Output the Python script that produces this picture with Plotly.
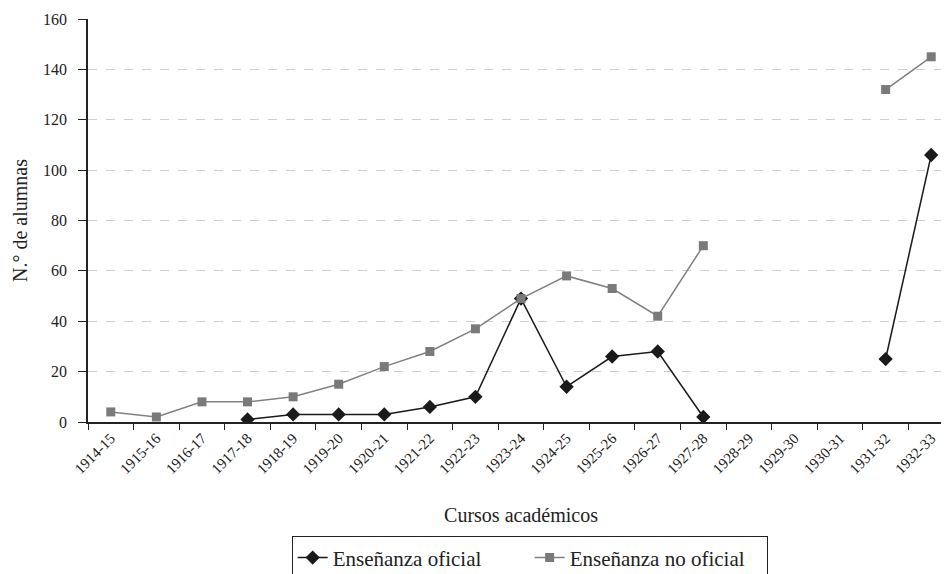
import plotly.graph_objects as go

cursos = ["1914-15", "1915-16", "1916-17", "1917-18", "1918-19", "1919-20", "1920-21",
          "1921-22", "1922-23", "1923-24", "1924-25", "1925-26", "1926-27", "1927-28",
          "1928-29", "1929-30", "1930-31", "1931-32", "1932-33"]
oficial = [None, None, None, 1, 3, 3, 3, 6, 10, 49, 14, 26, 28, 2, None, None, None, 25, 106]
no_oficial = [4, 2, 8, 8, 10, 15, 22, 28, 37, 49, 58, 53, 42, 70, None, None, None, 132, 145]

FONT = "Liberation Serif"

fig = go.Figure()
fig.add_trace(go.Scatter(
    x=cursos, y=oficial, name="Enseñanza oficial", mode="lines+markers",
    line=dict(color="#1a1a1a", width=1.5),
    marker=dict(symbol="diamond", size=11, color="#1a1a1a"),
    connectgaps=False))
fig.add_trace(go.Scatter(
    x=cursos, y=no_oficial, name="Enseñanza no oficial", mode="lines+markers",
    line=dict(color="#808080", width=1.5),
    marker=dict(symbol="square", size=9, color="#7a7a7a"),
    connectgaps=False))

fig.update_layout(
    width=949, height=574,
    margin=dict(l=80, r=3, t=11, b=160, autoexpand=False),
    paper_bgcolor="white", plot_bgcolor="white",
    font=dict(family=FONT, size=16, color="#222"),
    showlegend=True,
    legend=dict(orientation="h", x=0.51, xanchor="center", y=-0.284, yanchor="top",
                bordercolor="#222", borderwidth=1, font=dict(size=21, family=FONT),
                entrywidth=192, tracegroupgap=0),
    xaxis=dict(
        type="category", range=[-0.5, 18.5],
        tickson="boundaries", ticks="outside", ticklen=6, tickcolor="#222",
        tickangle=-45, tickfont=dict(size=15, family=FONT),
        showline=True, linecolor="#222", linewidth=1.5,
        showgrid=False, zeroline=False, automargin=False,
        title=dict(text="Cursos académicos", font=dict(size=20, family=FONT), standoff=32),
    ),
    yaxis=dict(
        range=[0, 160], dtick=20, ticks="outside", ticklen=8, tickcolor="#222",
        tickfont=dict(size=16, family=FONT), ticklabelstandoff=8,
        showline=True, linecolor="#222", linewidth=1.5,
        showgrid=True, gridcolor="#cfcfcf", griddash="dash", gridwidth=1,
        zeroline=False, automargin=False,
        title=dict(text="N.° de alumnas", font=dict(size=20, family=FONT), standoff=10),
    ),
)

fig.write_html("out.html")
